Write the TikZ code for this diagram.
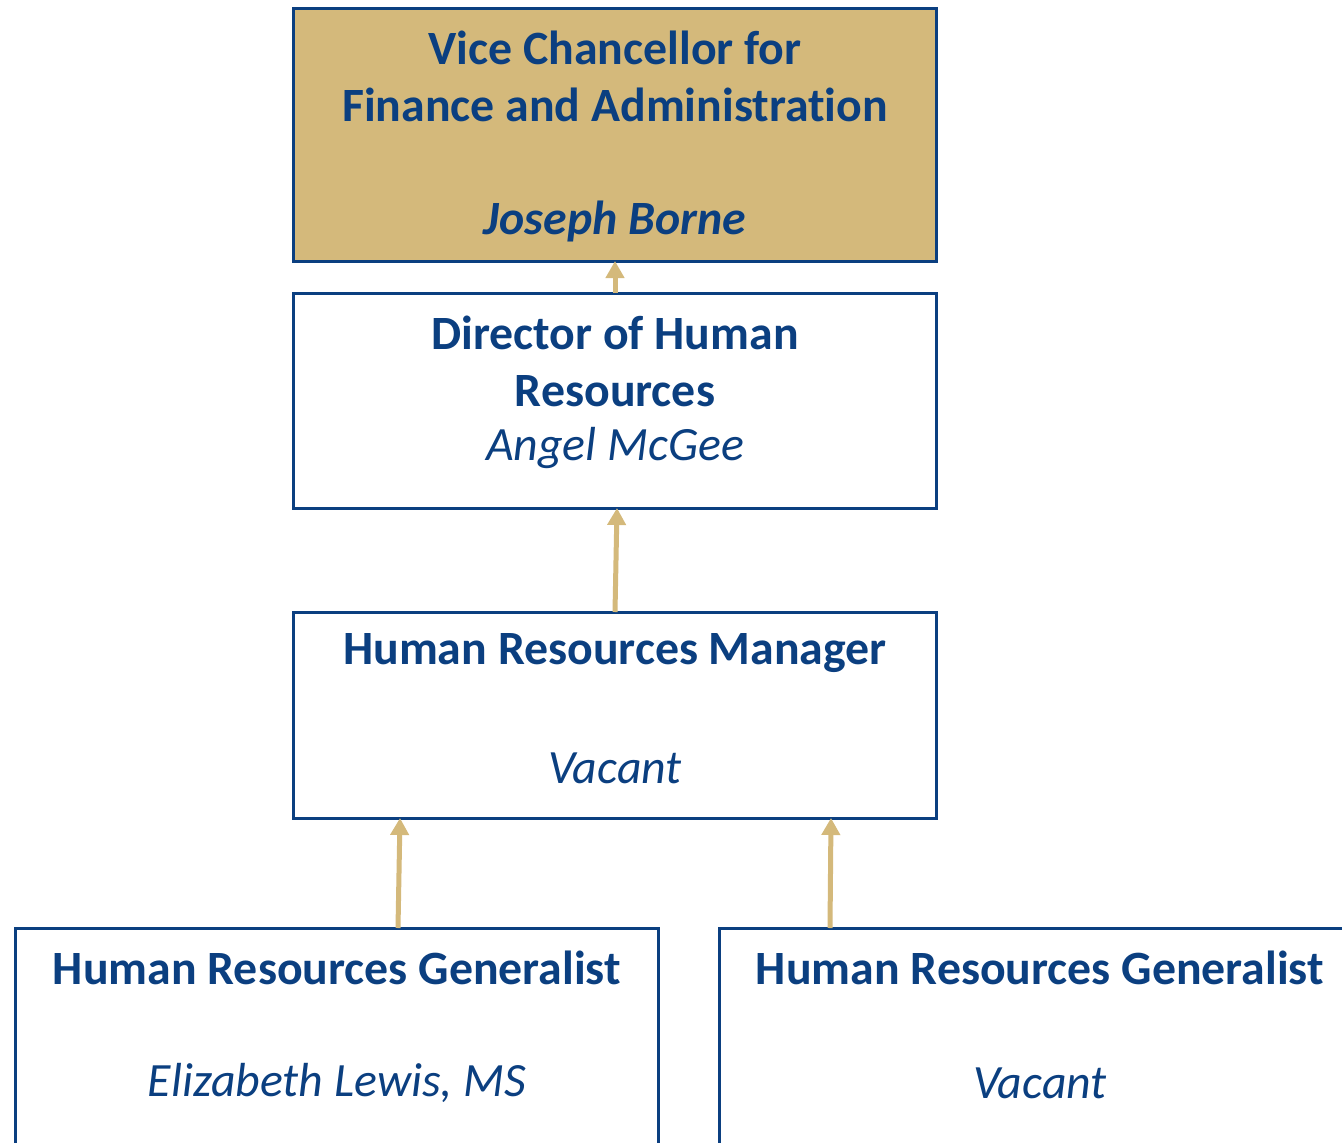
\documentclass[tikz,border=0pt]{standalone}
\usepackage{fontspec}
\setmainfont[Ligatures=NoCommon]{Carlito}
\usetikzlibrary{arrows.meta}
\definecolor{navy}{HTML}{0B3F80}
\definecolor{gold}{HTML}{D4B97B}
\begin{document}
\begin{tikzpicture}[x=1pt,y=-1pt,
  box/.style={draw=navy,line width=3pt,inner sep=0pt,outer sep=0pt,anchor=north west},
  lbl/.style={text=navy,font=\fontsize{47.8}{57}\selectfont\bfseries,inner sep=0pt,anchor=center},
  nm/.style={text=navy,font=\fontsize{47.8}{57}\selectfont\itshape,inner sep=0pt,anchor=center},
  up/.style={draw=gold,line width=5pt,-{Triangle[width=18pt,length=17pt]}}]
\useasboundingbox (0,0) rectangle (1342,1143);
\clip (0,0) rectangle (1342,1143);
% boxes
\node[box,fill=gold,minimum width=643pt,minimum height=253pt] (vc) at (293,8) {};
\node[box,minimum width=643pt,minimum height=215pt] (dir) at (293,293) {};
\node[box,minimum width=643pt,minimum height=206pt] (mgr) at (293,612) {};
\node[box,minimum width=643pt,minimum height=260pt] (g1) at (15,928) {};
\node[box,minimum width=680pt,minimum height=260pt] (g2) at (719,928) {};
% texts
\node[lbl] (vct1) at (615,48) {Vice Chancellor for};
\node[lbl] (vct2) at (615,105) {Finance and Administration};
\node[nm,font=\fontsize{47.8}{57}\selectfont\bfseries\itshape] (vcn) at (615,221) {Joseph Borne};
\node[lbl] (dirt1) at (615,333) {Director of Human};
\node[lbl] (dirt2) at (615,391) {Resources};
\node[nm] (dirn) at (615,448) {Angel McGee};
\node[lbl] (mgrt) at (615,653) {Human Resources Manager};
\node[nm] (mgrn) at (615,768) {Vacant};
\node[lbl] (g1t) at (337,968) {Human Resources Generalist};
\node[nm] (g1n) at (337,1083) {Elizabeth Lewis, MS};
\node[lbl] (g2t) at (1040,968) {Human Resources Generalist};
\node[nm] (g2n) at (1040,1083) {Vacant};
% connectors
\draw[up] (dir.north -| 615,0) -- (vc.south -| 615,0);
\draw[up] (mgr.north -| 615,0) -- (dir.south -| 617,0);
\draw[up] (g1.north -| 398,0) -- (mgr.south -| 400,0);
\draw[up] (g2.north -| 830,0) -- (mgr.south -| 831,0);
\end{tikzpicture}
\end{document}
